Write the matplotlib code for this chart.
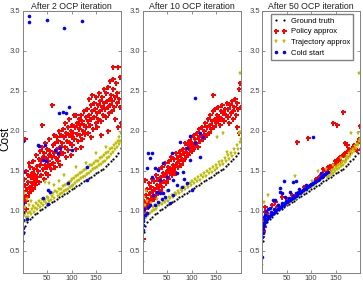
import matplotlib
matplotlib.use("Agg")
import matplotlib.pyplot as plt

plt.rcParams['font.family'] = ['Liberation Sans', 'DejaVu Sans']

titles = ['After 2 OCP iteration', 'After 10 OCP iteration', 'After 50 OCP iteration']
labels = ['Ground truth', 'Policy approx', 'Trajectory approx', 'Cold start']

# ground truth, same problems (sorted by cost) in every panel
gt = [(1, 0.63), (3, 0.74), (6, 0.81), (10, 0.86), (15, 0.90), (20, 0.93), (25, 0.96),
      (30, 0.98), (35, 1.01), (40, 1.03), (45, 1.05), (50, 1.07), (55, 1.09), (60, 1.11),
      (65, 1.13), (70, 1.15), (75, 1.17), (80, 1.19), (85, 1.21), (90, 1.23), (95, 1.25),
      (100, 1.27), (105, 1.29), (110, 1.31), (115, 1.33), (120, 1.35), (125, 1.37),
      (130, 1.39), (135, 1.41), (140, 1.43), (145, 1.45), (150, 1.47), (155, 1.49),
      (160, 1.51), (165, 1.53), (170, 1.56), (175, 1.59), (180, 1.62), (185, 1.65),
      (190, 1.69), (195, 1.73), (200, 1.79)]

# ---- after 2 iterations
policy2 = [(1, 1.15), (2, 1.25), (3, 1.40), (4, 1.20), (5, 1.90), (6, 1.32), (7, 1.12), (8, 1.50),
           (9, 1.28), (10, 1.18), (11, 1.45), (12, 1.36), (13, 1.60), (14, 1.22), (15, 1.30),
           (16, 1.55), (17, 1.42), (18, 1.25), (19, 1.48), (20, 1.35), (21, 1.62), (22, 1.28),
           (23, 1.40), (24, 1.52), (25, 1.33), (26, 1.45), (27, 1.70), (28, 1.38), (29, 1.56),
           (30, 1.42), (2, 1.05), (4, 1.10), (8, 1.03),
           (32, 1.50), (33, 1.65), (34, 1.36), (35, 1.58), (36, 1.75), (37, 1.45), (38, 1.62),
           (39, 1.80), (40, 2.07), (41, 1.52), (42, 1.68), (43, 1.40), (44, 1.72), (45, 1.58),
           (46, 1.85), (47, 1.48), (48, 1.66), (49, 1.55), (50, 1.78), (52, 1.62), (53, 1.45),
           (54, 1.70), (55, 1.90), (56, 1.58), (57, 1.75), (58, 1.52), (60, 2.33), (61, 1.68),
           (62, 1.82), (63, 1.60), (64, 1.95), (65, 1.72), (66, 1.55), (67, 1.85), (68, 1.66),
           (70, 1.78), (71, 1.92), (72, 1.62), (73, 1.88), (74, 1.70), (75, 2.00), (76, 1.80),
           (77, 1.58), (78, 1.95), (79, 1.74),
           (80, 1.85), (82, 2.02), (83, 1.72), (84, 1.92), (86, 1.80), (87, 2.10), (88, 1.68),
           (89, 1.98), (90, 1.88), (92, 2.05), (93, 1.76), (94, 1.95), (95, 2.15), (96, 1.85),
           (98, 2.00), (99, 1.70), (100, 1.93), (101, 2.08), (102, 1.82), (104, 1.98),
           (105, 2.20), (106, 1.90), (108, 2.05), (109, 1.78), (110, 2.20), (111, 1.96),
           (112, 2.10), (114, 1.88), (115, 2.02), (116, 2.15), (117, 1.95), (118, 2.08),
           (120, 2.20), (121, 1.90), (122, 2.12), (124, 2.00), (125, 2.25), (126, 2.08),
           (128, 1.96), (129, 2.18),
           (130, 2.05), (132, 2.28), (133, 2.12), (134, 1.98), (135, 2.40), (136, 2.20),
           (138, 2.08), (139, 2.32), (140, 2.15), (141, 2.45), (142, 2.25), (144, 2.02),
           (145, 2.35), (146, 2.18), (148, 2.28), (149, 2.10), (150, 2.42), (151, 2.22),
           (152, 2.05), (154, 2.32), (155, 2.15), (156, 2.48), (158, 2.25), (159, 2.38),
           (160, 2.12), (162, 2.30), (163, 2.42), (164, 2.20), (166, 2.35), (167, 2.52),
           (168, 2.28), (170, 2.48), (171, 2.18), (172, 2.38), (174, 2.30), (175, 2.55),
           (176, 2.22), (178, 2.40), (179, 2.32), (180, 2.45), (182, 2.25), (183, 2.38),
           (184, 2.52), (185, 2.80), (186, 2.30), (188, 2.42), (189, 2.15), (190, 2.60),
           (192, 2.35), (193, 2.48), (194, 2.05), (195, 2.80), (196, 2.40), (198, 2.67),
           (199, 2.30), (200, 2.10), (160, 1.95), (175, 2.00), (185, 2.65), (140, 1.92),
           (120, 1.80), (178, 2.62)]
traj2 = [(1, 0.85), (2, 1.10), (3, 0.95), (4, 1.22), (5, 0.98), (6, 1.05), (7, 0.88), (8, 0.93),
         (9, 1.15), (11, 0.98), (12, 0.93), (13, 1.08), (15, 0.99), (17, 1.12), (18, 0.96),
         (20, 1.02), (22, 1.06), (24, 0.99), (25, 1.04), (28, 1.10), (30, 1.03), (31, 1.08),
         (34, 1.12), (36, 1.05), (37, 1.10), (40, 1.15), (42, 1.08), (43, 1.13), (46, 1.14),
         (48, 1.10), (50, 1.17), (53, 1.16), (54, 1.12), (56, 1.22), (58, 1.14), (60, 1.19),
         (63, 1.22), (64, 1.16), (67, 1.25), (70, 1.24), (72, 1.19), (74, 1.28), (76, 1.21),
         (78, 1.27), (80, 1.23), (82, 1.31), (84, 1.25), (86, 1.33), (88, 1.26), (90, 1.34),
         (92, 1.28), (94, 1.36), (96, 1.30), (98, 1.38), (100, 1.31), (102, 1.40), (104, 1.33),
         (106, 1.41), (108, 1.35), (110, 1.44), (112, 1.37), (114, 1.45), (116, 1.39),
         (118, 1.47), (120, 1.41), (122, 1.49), (124, 1.42), (126, 1.51), (128, 1.44),
         (130, 1.52), (132, 1.46), (134, 1.55), (136, 1.48), (138, 1.57), (140, 1.50),
         (142, 1.58), (144, 1.52), (146, 1.60), (148, 1.54), (150, 1.62), (152, 1.55),
         (154, 1.63), (156, 1.57), (158, 1.66), (160, 1.59), (162, 1.67), (164, 1.61),
         (166, 1.70), (168, 1.63), (170, 1.72), (172, 1.66), (174, 1.74), (176, 1.68),
         (178, 1.77), (180, 1.71), (182, 1.79), (184, 1.74), (186, 1.82), (188, 1.77),
         (190, 1.85), (192, 1.80), (194, 1.88), (196, 1.84), (197, 1.93), (199, 1.88),
         (200, 1.97), (45, 1.36), (55, 1.35), (65, 1.33), (75, 1.38), (85, 1.45),
         (110, 1.55), (130, 1.60), (150, 1.72), (170, 1.80)]
cold2 = [(13, 3.44), (13, 3.36), (50, 3.39), (85, 3.29), (121, 3.37), (75, 2.22), (83, 2.24),
         (88, 2.22), (95, 2.30), (0, 1.87), (32, 1.83), (46, 1.83), (66, 1.76), (73, 1.72),
         (101, 1.76), (34, 1.81), (42, 1.64), (48, 1.62), (1, 1.49), (131, 1.55), (93, 1.35),
         (52, 1.26), (56, 1.24), (42, 1.16), (52, 1.09), (132, 1.39), (1, 1.10), (1, 0.99),
         (2, 0.89), (1, 0.79), (2, 0.73), (9, 0.90), (77, 1.79)]

# ---- after 10 iterations
policy10 = [(0, 0.65), (1, 1.00), (2, 1.05), (3, 0.97), (4, 1.12), (5, 1.39), (6, 1.02), (7, 1.20),
            (8, 0.95), (9, 1.10), (10, 1.28), (11, 1.05), (12, 1.15), (13, 1.35), (14, 1.08),
            (15, 1.22), (16, 1.12), (18, 1.30), (19, 1.18), (20, 1.40), (22, 1.25), (23, 1.15),
            (24, 1.38), (25, 1.28), (27, 1.20), (28, 1.45), (29, 1.32), (30, 1.22), (32, 1.40),
            (33, 1.30), (34, 1.52), (35, 1.25), (37, 1.42), (38, 1.35), (39, 1.55), (40, 1.30),
            (42, 1.48), (43, 1.38), (45, 1.45), (46, 1.60), (47, 1.35), (49, 1.50), (50, 1.42),
            (52, 1.55), (53, 1.40), (55, 1.62), (56, 1.48), (58, 1.52), (59, 1.68), (60, 1.45),
            (62, 1.58), (63, 1.50), (65, 1.65), (66, 1.55), (68, 1.48), (69, 1.72), (70, 1.60),
            (72, 1.55), (73, 1.68), (75, 1.62), (76, 1.75), (78, 1.58), (79, 1.70), (80, 1.65),
            (82, 1.78), (83, 1.62), (85, 1.72), (86, 1.85), (88, 1.68), (89, 1.78), (90, 1.72),
            (92, 1.82), (93, 1.70), (95, 1.88), (96, 1.76), (98, 1.80), (99, 1.92), (100, 1.75),
            (102, 1.85), (104, 1.78), (105, 1.95), (107, 1.82), (108, 1.90), (110, 1.85),
            (112, 1.98), (113, 1.80), (115, 1.92), (116, 2.02), (118, 1.88), (120, 1.95),
            (122, 2.05), (123, 1.90), (125, 2.00), (127, 1.92), (128, 2.10), (130, 1.95),
            (132, 2.05), (133, 2.15), (135, 1.98), (137, 2.08), (138, 2.20), (140, 2.02),
            (141, 2.12), (143, 2.25), (144, 2.45), (145, 2.05), (147, 2.15), (148, 2.28),
            (150, 2.10), (152, 2.20), (154, 2.12), (155, 2.30), (157, 2.18), (158, 2.08),
            (160, 2.25), (162, 2.15), (163, 2.32), (165, 2.22), (167, 2.12), (168, 2.28),
            (170, 2.20), (172, 2.35), (174, 2.18), (175, 2.28), (177, 2.10), (178, 2.32),
            (180, 2.22), (182, 2.38), (184, 2.25), (185, 2.15), (187, 2.30), (188, 2.40),
            (190, 2.20), (192, 2.35), (193, 2.05), (195, 2.28), (196, 1.98), (197, 2.52),
            (199, 2.60), (200, 2.30)]
traj10 = [(0, 0.36), (1, 0.82), (2, 1.02), (3, 0.88), (4, 1.18), (5, 0.95), (6, 1.08), (7, 0.92),
          (8, 1.25), (9, 0.98), (10, 1.12), (12, 0.95), (14, 1.05), (16, 0.98), (18, 1.10),
          (20, 1.00), (22, 1.05), (24, 1.01), (26, 1.08), (28, 1.03), (30, 1.06), (33, 1.07),
          (36, 1.10), (39, 1.09), (42, 1.13), (45, 1.11), (48, 1.15), (51, 1.13), (54, 1.18),
          (57, 1.16), (60, 1.20), (63, 1.18), (66, 1.23), (69, 1.21), (72, 1.25), (75, 1.23),
          (78, 1.28), (81, 1.25), (84, 1.30), (87, 1.28), (90, 1.32), (93, 1.30), (96, 1.35),
          (99, 1.32), (102, 1.37), (105, 1.35), (108, 1.40), (111, 1.37), (114, 1.42),
          (117, 1.39), (120, 1.45), (123, 1.42), (126, 1.47), (129, 1.44), (132, 1.50),
          (135, 1.47), (138, 1.52), (141, 1.49), (144, 1.55), (147, 1.51), (150, 1.58),
          (153, 1.54), (156, 1.61), (159, 1.57), (162, 1.63), (165, 1.59), (168, 1.66),
          (171, 1.62), (174, 1.70), (177, 1.65), (180, 1.73), (183, 1.69), (186, 1.77),
          (189, 1.73), (192, 1.82), (195, 1.78), (198, 1.86), (200, 1.90), (152, 1.93),
          (164, 1.97), (172, 1.74), (196, 1.97), (199, 1.99), (198, 2.72), (30, 1.15), (50, 1.25)]
cold10 = [(107, 2.41), (97, 1.94), (117, 1.97), (123, 1.93), (11, 1.73), (19, 1.73), (15, 1.66),
          (25, 1.54), (32, 1.51), (42, 1.60), (60, 1.72), (76, 1.86), (90, 1.79), (9, 1.54),
          (19, 1.43), (36, 1.39), (50, 1.43), (63, 1.39), (70, 1.47), (83, 1.49), (97, 1.64),
          (91, 1.35), (52, 1.26), (42, 1.22), (29, 1.24), (63, 1.20), (101, 1.26), (107, 1.85),
          (117, 1.68), (22, 1.20), (36, 1.22), (46, 1.18), (32, 1.11), (15, 1.07), (56, 1.10),
          (5, 0.95), (1, 0.91), (1, 0.82), (0, 0.76), (9, 0.98), (3, 1.02), (2, 0.88),
          (12, 1.05), (26, 1.08), (40, 1.15), (80, 1.30), (70, 1.32), (85, 1.40)]

# ---- after 50 iterations
policy50 = [(0, 0.68), (1, 0.75), (2, 0.88), (3, 0.80), (5, 1.05), (6, 0.99), (8, 0.92), (12, 0.96),
            (20, 1.07), (26, 1.11), (30, 1.05), (40, 1.18), (50, 1.15), (60, 1.20), (71, 1.86),
            (73, 1.22), (94, 1.91), (85, 1.30), (100, 1.33), (110, 1.40), (118, 1.44),
            (125, 1.52), (130, 1.50), (135, 1.55), (140, 1.53), (144, 2.10), (145, 1.58),
            (150, 1.60), (153, 2.07), (155, 1.65), (160, 1.63), (165, 2.24), (165, 1.70),
            (169, 1.85), (170, 1.68), (173, 1.83), (175, 1.75), (180, 1.72), (185, 1.80),
            (190, 1.78), (193, 1.76), (195, 1.86), (200, 2.06), (200, 1.88), (115, 1.42),
            (125, 1.46), (138, 1.56), (148, 1.62), (158, 1.68), (168, 1.73), (178, 1.77),
            (188, 1.83), (198, 1.90)]
traj50 = [(0, 0.32), (2, 0.78), (4, 1.11), (6, 0.86), (10, 0.92), (15, 0.95), (20, 0.97),
          (26, 1.00), (32, 1.02), (38, 1.05), (44, 1.07), (50, 1.09), (56, 1.11), (62, 1.14),
          (68, 1.16), (74, 1.19), (80, 1.21), (86, 1.24), (92, 1.26), (98, 1.29), (102, 1.31),
          (106, 1.33), (110, 1.35), (114, 1.37), (118, 1.39), (122, 1.41), (126, 1.43),
          (130, 1.45), (134, 1.47), (138, 1.49), (142, 1.51), (146, 1.53), (150, 1.55),
          (154, 1.57), (158, 1.59), (162, 1.61), (166, 1.63), (170, 1.66), (174, 1.69),
          (178, 1.72), (182, 1.75), (186, 1.78), (190, 1.81), (194, 1.84), (198, 1.88),
          (200, 1.90), (198, 2.72), (181, 1.97), (196, 1.97), (67, 1.44), (114, 1.50),
          (102, 1.37), (12, 1.20), (130, 1.52), (145, 1.58), (160, 1.66),
          (132, 1.42), (136, 1.44), (140, 1.46), (144, 1.48), (148, 1.50), (152, 1.52),
          (156, 1.54), (160, 1.56), (164, 1.58), (168, 1.61), (172, 1.63), (176, 1.66),
          (180, 1.69), (184, 1.72), (188, 1.75), (192, 1.79), (196, 1.83)]
cold50 = [(0, 0.68), (1, 0.72), (1, 0.78), (2, 0.80), (3, 0.85), (4, 0.82), (6, 0.86), (8, 0.89),
          (10, 0.90), (12, 0.92), (14, 0.93), (17, 0.95), (20, 0.96), (23, 0.98), (26, 0.99),
          (29, 1.01), (32, 1.02), (35, 1.04), (38, 1.05), (41, 1.07), (44, 1.08), (47, 1.10),
          (50, 1.11), (53, 1.12), (56, 1.14), (59, 1.15), (62, 1.16), (65, 1.18), (68, 1.19),
          (71, 1.20), (74, 1.22), (77, 1.23), (80, 1.24), (83, 1.26), (86, 1.27), (89, 1.28),
          (92, 1.30), (95, 1.31), (98, 1.32), (101, 1.34), (104, 1.35), (107, 1.36),
          (110, 1.38), (113, 1.39), (116, 1.40), (119, 1.42), (122, 1.43), (125, 1.44),
          (128, 1.46), (131, 1.47), (134, 1.49),
          (5, 0.90), (11, 0.94), (18, 0.99), (25, 1.03), (33, 1.08), (40, 1.10), (48, 1.13),
          (55, 1.16), (63, 1.19), (70, 1.22), (78, 1.25), (85, 1.28), (93, 1.31), (100, 1.34),
          (108, 1.37), (115, 1.40), (123, 1.44), (130, 1.47),
          (0, 0.42), (16, 1.04), (26, 1.14), (36, 1.24), (46, 1.18), (44, 1.37), (69, 1.37),
          (104, 1.93), (22, 1.14), (32, 1.08), (40, 1.22), (83, 1.26), (57, 1.24), (63, 1.36),
          (37, 1.29), (5, 0.95), (8, 1.00), (3, 0.92), (12, 1.02), (75, 1.28), (90, 1.33),
          (120, 1.47)]

panels = [(policy2, traj2, cold2), (policy10, traj10, cold10), (policy50, traj50, cold50)]

fig = plt.figure(figsize=(3.63, 2.82), dpi=100)
lefts = [0.062, 0.3926, 0.7223]

for i, (pol, tra, cold) in enumerate(panels):
    ax = fig.add_axes([lefts[i], 0.032, 0.27, 0.929])
    ax.plot([p[0] for p in gt], [p[1] for p in gt], 'o', color='k', ms=1.6, mew=0, label=labels[0])
    ax.plot([p[0] for p in pol], [p[1] for p in pol], 'P', color='red', ms=3.6, mew=0, label=labels[1])
    ax.plot([p[0] for p in tra], [p[1] for p in tra], '*', color=(0.75, 0.75, 0), ms=3.6, mew=0, label=labels[2])
    ax.plot([p[0] for p in cold], [p[1] for p in cold], 'o', color='blue', ms=2.6, mew=0, label=labels[3])
    ax.set_xlim(0, 200)
    ax.set_ylim(0.225, 3.5)
    ax.set_xticks([50, 100, 150])
    ax.set_yticks([0.5, 1.0, 1.5, 2.0, 2.5, 3.0, 3.5])
    ax.set_yticklabels(['0.5', '1.0', '1.5', '2.0', '2.5', '3.0', '3.5'])
    ax.tick_params(direction='in', top=True, right=True, length=2, width=0.5,
                   labelsize=5.5, labelcolor='#444444', color='#666666', pad=1.5)
    for s in ax.spines.values():
        s.set_color('#808080')
        s.set_linewidth(0.7)
    ax.set_title(titles[i], fontsize=6.3, pad=1.5, color='#222222')
    if i == 0:
        ax.set_ylabel('Cost', fontsize=8.5)
        ax.yaxis.set_label_coords(-0.115, 0.51)
    if i == 2:
        ax.legend(loc='upper left', bbox_to_anchor=(0.09, 0.988), borderaxespad=0, numpoints=2,
                  fontsize=5.5, fancybox=False, edgecolor='#808080', framealpha=1,
                  handlelength=1.6, handletextpad=0.6, labelspacing=0.45, borderpad=0.4)

fig.savefig('out.png', dpi=100)
